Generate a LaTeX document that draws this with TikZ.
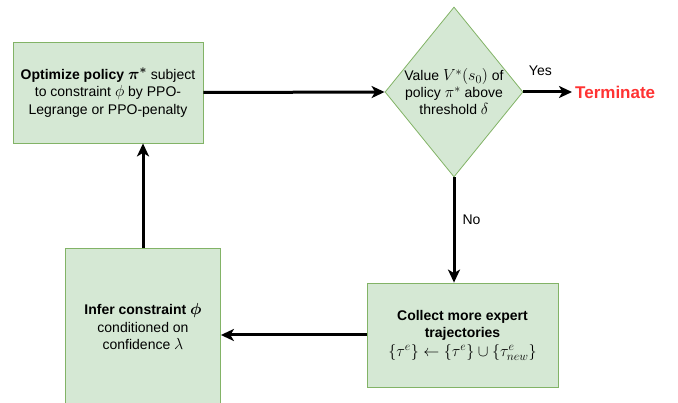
\RequirePackage{fix-cm}
\documentclass[tikz,border=0pt]{standalone}
\usepackage{amsmath}
\usepackage{amssymb}
\usepackage[no-math]{fontspec}
\setmainfont{Liberation Sans}
\usepackage{tikz}
\usetikzlibrary{calc}
\usetikzlibrary{shapes}
\usetikzlibrary{positioning}
\usetikzlibrary{arrows.meta}

\DeclareMathSizes{14}{16}{12}{10}
\definecolor{boxfill}{HTML}{D5E8D4}
\definecolor{boxline}{HTML}{82B366}
\definecolor{termred}{HTML}{FF3333}

\begin{document}
\begin{tikzpicture}[x=1pt,y=-1pt,
	  flow/.style={-{Stealth[length=13pt,width=12pt,inset=3.5pt]},line width=3pt},
	  block/.style={rectangle,draw=boxline,fill=boxfill,line width=0.8pt,align=center,
	    font=\fontsize{14}{17.5}\selectfont},
	  decision/.style={diamond,draw=boxline,fill=boxfill,line width=0.8pt,inner sep=0pt,
	    minimum width=138pt,minimum height=170pt},
	  lbl/.style={font=\fontsize{14}{17}\selectfont,inner sep=1pt}]

	 \useasboundingbox (0,0) rectangle (678,403);
	 \clip (0,0) rectangle (678,403);

	 \node[block, minimum width=190pt, minimum height=101pt] (optim) at (108,92.5)
	   {\textbf{Optimize policy $\boldsymbol{\pi^*}$} subject\\
	    to constraint $\phi$ by PPO-\\Legrange or PPO-penalty};
	 \node[decision] (check) at (454,92) {};
	 \node[align=center, font=\fontsize{14}{17}\selectfont] (checktext) at (check.center)
	   {Value $V^*(s_0)$ of\\ policy $\pi^*$ above\\ threshold $\delta$};
	 \node[anchor=west, inner sep=3pt, text=termred, font=\fontsize{17}{20}\selectfont\bfseries]
	   (term) at (572,92) {Terminate};
	 \node[block, minimum width=191pt, minimum height=104pt] (collect) at (462.5,335)
	   {\textbf{Collect more expert}\\ \textbf{trajectories}\\[1pt]
	    $\{\tau^e\}\leftarrow\{\tau^e\}\cup\{\tau^e_{new}\}$};
	 \node[block, minimum width=155pt, minimum height=158pt] (infer) at (143,327)
	   {\textbf{Infer constraint $\boldsymbol{\phi}$}\\ conditioned on\\ confidence $\lambda$};

	 \draw[flow] (optim.east) -- (check.west);
	 \draw[flow] (check.east) -- (term.west) node[lbl, pos=0.35, above=14pt] (yes) {Yes};
	 \draw[flow] (check.south) -- (check.south |- collect.north)
	   node[lbl, pos=0.4, right=6pt] (no) {No};
	 \draw[flow] (collect.west) -- (collect.west -| infer.east);
	 \draw[flow] (infer.north) -- (infer.north |- optim.south);
	\end{tikzpicture}
\end{document}
